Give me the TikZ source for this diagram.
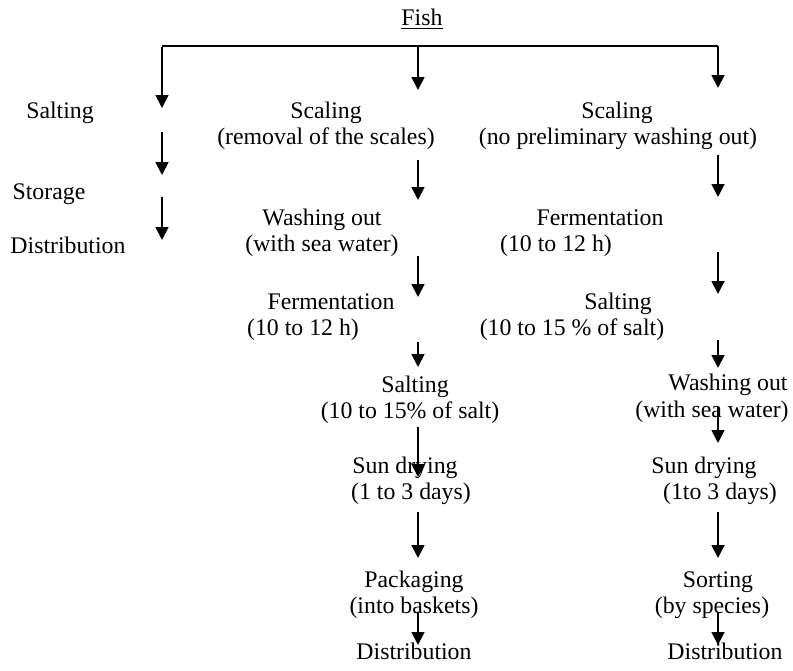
\documentclass[tikz,border=0pt]{standalone}
\usepackage{fontspec}
\setmainfont{Liberation Serif}
\usetikzlibrary{
		calc,
		positioning,
		arrows.meta
	}
\tikzset{
		>={Triangle[width=6.5pt,length=6.5pt]},
		lbl/.style={anchor=base, inner sep=0pt, font=\fontsize{11.9}{13}\selectfont},
		flow/.style={->, line width=0.9pt}
	}

\begin{document}
\begin{tikzpicture}[x=0.5pt, y=-0.5pt]
		\useasboundingbox (0,0) rectangle (793,670);
		% top of the tree
		\node[lbl] (fish) at (422,25) {\underline{Fish}};
		\coordinate (cl) at (162,46); \coordinate (cr) at (718,46);
		\draw[line width=0.8pt] (cl) -- (cr);
		% left column
		\node[lbl] (l1) at (60,118) {Salting};
		\node[lbl] (l2) at (49,199) {Storage};
		\node[lbl] (l3) at (68,253) {Distribution};
		% middle column
		\node[lbl] (m1) at (326,118) {Scaling}; \node[lbl] (m1b) at (326,144) {(removal of the scales)};
		\node[lbl] (m2) at (322,225) {Washing out}; \node[lbl] (m2b) at (322,251) {(with sea water)};
		\node[lbl] (m3) at (331,309) {Fermentation}; \node[lbl] (m3b) at (303,335) {(10 to 12 h)};
		\node[lbl] (m4) at (415,392) {Salting}; \node[lbl] (m4b) at (410,418) {(10 to 15\% of salt)};
		\node[lbl] (m5) at (405,473) {Sun drying}; \node[lbl] (m5b) at (411,499) {(1 to 3 days)};
		\node[lbl] (m6) at (414,587) {Packaging}; \node[lbl] (m6b) at (414,613) {(into baskets)};
		\node[lbl] (m7) at (414,659) {Distribution};
		% right column
		\node[lbl] (r1) at (617,118) {Scaling}; \node[lbl] (r1b) at (618,144) {(no preliminary washing out)};
		\node[lbl] (r2) at (600,225) {Fermentation}; \node[lbl] (r2b) at (556,251) {(10 to 12 h)};
		\node[lbl] (r3) at (618,309) {Salting}; \node[lbl] (r3b) at (572,335) {(10 to 15 \% of salt)};
		\node[lbl] (r4) at (728,390) {Washing out}; \node[lbl] (r4b) at (712,417) {(with sea water)};
		\node[lbl] (r5) at (704,473) {Sun drying}; \node[lbl] (r5b) at (720,499) {(1to 3 days)};
		\node[lbl] (r6) at (718,587) {Sorting}; \node[lbl] (r6b) at (712,613) {(by species)};
		\node[lbl] (r7) at (725,659) {Distribution};
		% arrows
		\foreach \n/\x/\ya/\yb in {
				la/162/47/108, lb/162/132/175, lc/162/197/240,
				ma/418/47/90, mb/418/160/200, mc/418/256/297, md/418/342/367,
				me/418/427/477, mf/418/512/558, mg/418/612/645,
				ra/718/46/88, rb/718/155/197, rc/718/252/294, rd/718/340/368,
				re/718/407/443, rf/718/512/558, rg/718/612/645}
			{
				\coordinate (\n s) at (\x,\ya); \coordinate (\n e) at (\x,\yb);
				\draw[flow] (\n s) -- (\n e);
			}
	\end{tikzpicture}
\end{document}
